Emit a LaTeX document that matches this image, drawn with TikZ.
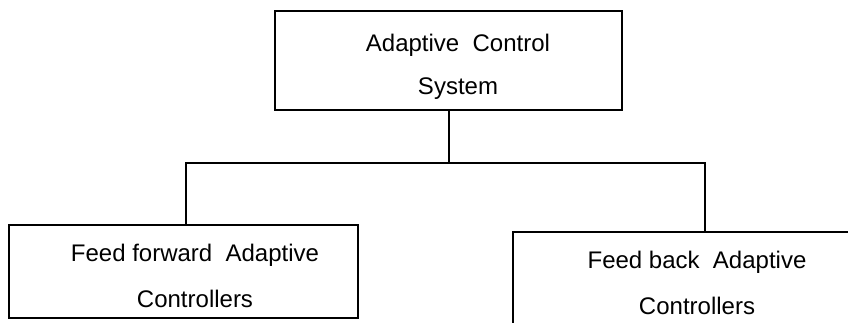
\documentclass[tikz,border=0pt]{standalone}
\usepackage{fontspec}
\setmainfont{Liberation Sans}
\begin{document}
\begin{tikzpicture}[x=1pt,y=-1pt,
  box/.style={draw=black,line width=1.6pt,rectangle,inner sep=0pt,anchor=north west},
  lbl/.style={inner sep=0pt,anchor=base,font=\fontsize{24}{29}\selectfont},
  wire/.style={draw=black,line width=1.6pt}]
\useasboundingbox (0,0) rectangle (848,323);
\fill[white] (0,0) rectangle (848,323);
\clip (0,0) rectangle (848,323);

% boxes
\node[box,minimum width=347pt,minimum height=99pt] (acs) at (274,10) {};
\node[box,minimum width=349pt,minimum height=93pt] (ff) at (8,224) {};
\node[box,minimum width=380pt,minimum height=120pt] (fb) at (512,231) {};

% labels
\node[lbl] (acs1) at (458,52) {Adaptive~ Control};
\node[lbl] (acs2) at (458,95) {System};
\node[lbl] (ff1) at (195,261) {Feed forward~ Adaptive};
\node[lbl] (ff2) at (195,307) {Controllers};
\node[lbl] (fb1) at (697,268) {Feed back~ Adaptive};
\node[lbl] (fb2) at (697,314) {Controllers};

% branching connectors
\coordinate (jc) at (449,163);
\coordinate (jl) at (186,163);
\coordinate (jr) at (705,163);
\draw[wire] (acs.south -| jc) -- (jc);
\draw[wire,line cap=rect] (jl) -- (jr);
\draw[wire] (jl) -- (jl |- ff.north);
\draw[wire] (jr) -- (jr |- fb.north);
\end{tikzpicture}
\end{document}
